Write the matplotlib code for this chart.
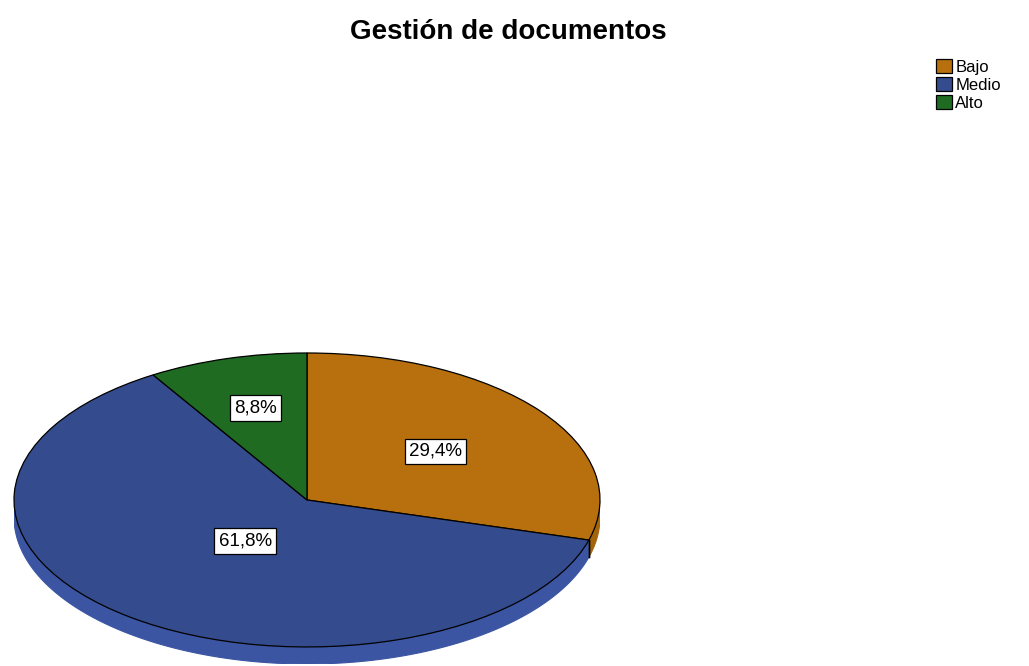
import numpy as np
import matplotlib
matplotlib.use("Agg")
import matplotlib.pyplot as plt
from matplotlib.patches import Polygon

plt.rcParams["font.family"] = ["Liberation Sans", "DejaVu Sans"]

# data
categories = ["Bajo", "Medio", "Alto"]
percentages = [29.4, 61.8, 8.8]
pct_labels = ["29,4%", "61,8%", "8,8%"]

top_colors = ["#b8700e", "#344c8e", "#1f6b22"]
side_colors = ["#a4640c", "#3b55a3", "#195a1c"]
label_radius = [0.55, 0.35, 0.65]
depth = 0.116

W, H = 1029, 666
fig = plt.figure(figsize=(W / 100, H / 100), dpi=100)
fig.patch.set_facecolor("white")

ax = fig.add_axes([14 / W, 2 / H, 586 / W, 311 / H])

wedges, _ = ax.pie(percentages, colors=top_colors, startangle=90,
                   counterclock=False,
                   wedgeprops=dict(edgecolor="black", linewidth=0.9))
for w in wedges:
    w.set_zorder(3)

# side band of the "3D" disc, only the front half shows
for w, col in zip(wedges, side_colors):
    t1, t2 = w.theta1, w.theta2
    for lo, hi in [(-180, 0), (180, 360), (-540, -360)]:
        a = max(t1, lo)
        b = min(t2, hi)
        if b <= a:
            continue
        th = np.radians(np.linspace(a, b, 200))
        xs = np.cos(th)
        ys = np.sin(th)
        pts = np.column_stack([np.concatenate([xs, xs[::-1]]),
                               np.concatenate([ys, ys[::-1] - depth])])
        ax.add_patch(Polygon(pts, closed=True, facecolor=col,
                             edgecolor=col, linewidth=0.8, zorder=2))
        # dark vertical edge where the slice border meets the rim
        for ang in (a, b):
            if ang in (t1, t2) and ang not in (lo, hi):
                r = np.radians(ang)
                ax.plot([np.cos(r)] * 2, [np.sin(r), np.sin(r) - depth],
                        color="black", lw=1.0, zorder=2.5)

for w, lab, r in zip(wedges, pct_labels, label_radius):
    mid = np.radians((w.theta1 + w.theta2) / 2)
    ax.text(r * np.cos(mid), r * np.sin(mid), lab, ha="center", va="center",
            fontsize=13.5, zorder=5,
            bbox=dict(boxstyle="square,pad=0.22", fc="white", ec="black", lw=0.9))

ax.set_aspect("auto")
ax.set_xlim(-1.0, 1.0)
ax.set_ylim(-1.0 - depth, 1.0)
ax.axis("off")

fig.text(508 / W, 1 - 32 / H, "Gestión de documentos", ha="center", va="center",
         fontsize=20, fontweight="bold")

fig.legend(wedges, categories, loc="upper left",
           bbox_to_anchor=(936 / W, 1 - 59 / H), frameon=False,
           handlelength=0.95, handleheight=0.95, handletextpad=0.2,
           labelspacing=0.12, fontsize=12, borderaxespad=0, borderpad=0)

fig.savefig("out.png", dpi=100, facecolor="white")
